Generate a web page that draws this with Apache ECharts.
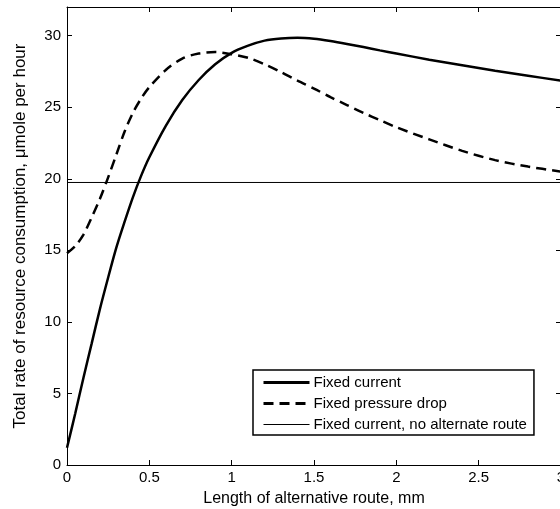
<!DOCTYPE html>
<html>
<head>
<meta charset="utf-8">
<script src="https://cdn.jsdelivr.net/npm/echarts@6/dist/echarts.min.js"></script>
<style>
html,body{margin:0;padding:0;background:#fff;}
#chart{width:560px;height:509px;}
</style>
</head>
<body>
<div id="chart"></div>
<script>
// Series: Fixed current (x, y)
var fixedCurrentX = [0, 0.05, 0.1, 0.15, 0.2, 0.25, 0.3, 0.35, 0.4, 0.45, 0.5, 0.6, 0.7, 0.8, 0.9, 1.0, 1.1, 1.2, 1.3, 1.4, 1.5, 1.6, 1.7, 1.8, 1.9, 2.0, 2.2, 2.4, 2.6, 2.8, 3.0];
var fixedCurrentY = [1.2, 3.6, 6.1, 8.5, 10.9, 13.1, 15.2, 17.0, 18.7, 20.2, 21.5, 23.7, 25.5, 26.9, 28.0, 28.8, 29.3, 29.65, 29.8, 29.85, 29.78, 29.62, 29.42, 29.2, 28.97, 28.75, 28.32, 27.93, 27.55, 27.2, 26.85];
// Series: Fixed pressure drop (x, y)
var pressureDropX = [0, 0.05, 0.1, 0.15, 0.2, 0.25, 0.3, 0.35, 0.4, 0.45, 0.5, 0.6, 0.7, 0.8, 0.9, 1.0, 1.1, 1.2, 1.3, 1.4, 1.5, 1.6, 1.7, 1.8, 1.9, 2.0, 2.2, 2.4, 2.6, 2.8, 3.0];
var pressureDropY = [14.8, 15.3, 16.1, 17.3, 18.6, 20.1, 21.7, 23.3, 24.6, 25.6, 26.4, 27.6, 28.4, 28.75, 28.85, 28.7, 28.45, 28.0, 27.45, 26.85, 26.3, 25.7, 25.15, 24.6, 24.1, 23.6, 22.75, 21.95, 21.3, 20.85, 20.5];
// Series: Fixed current, no alternate route
var noAltX = [0, 3];
var noAltY = [19.74, 19.74];
var seriesNames = ['Fixed current', 'Fixed pressure drop', 'Fixed current, no alternate route'];
var xTicks = [0, 0.5, 1, 1.5, 2, 2.5, 3];
var yTicks = [0, 5, 10, 15, 20, 25, 30];

function pairs(xs, ys) { return xs.map(function (x, i) { return [x, ys[i]]; }); }

var chart = echarts.init(document.getElementById('chart'), null, {renderer: 'canvas'});
var FONT = 'Liberation Sans, Arial, Helvetica, sans-serif';
function axisBase() {
  return {
    axisLine: {show: true, onZero: false, lineStyle: {color: '#000', width: 1}},
    axisTick: {show: true, inside: true, length: 5, lineStyle: {color: '#000', width: 1}},
    splitLine: {show: false}
  };
}
var noIcon = {color: 'rgba(0,0,0,0)', borderColor: 'rgba(0,0,0,0)', borderWidth: 0, opacity: 0};
chart.setOption({
  animation: false,
  backgroundColor: '#fff',
  grid: {left: 67, top: 7, right: -1, bottom: 44, containLabel: false, outerBoundsMode: 'none'},
  xAxis: [
    Object.assign(axisBase(), {
      type: 'value', min: 0, max: 3, interval: 0.5, position: 'bottom',
      axisLabel: {color: '#000', fontFamily: FONT, fontSize: 15, margin: 5,
        formatter: function (v) { return xTicks.indexOf(v) >= 0 ? String(v) : ''; }},
      name: 'Length of alternative route, mm', nameLocation: 'middle', nameGap: 26, nameMoveOverlap: false,
      nameTextStyle: {color: '#000', fontFamily: FONT, fontSize: 16, verticalAlign: 'top'}
    }),
    Object.assign(axisBase(), {
      type: 'value', min: 0, max: 3, interval: 0.5, position: 'top',
      axisLabel: {show: false}
    })
  ],
  yAxis: [
    Object.assign(axisBase(), {
      type: 'value', min: 0, max: 32, interval: 5, position: 'left',
      axisLabel: {color: '#000', fontFamily: FONT, fontSize: 15, margin: 6,
        formatter: function (v) { return yTicks.indexOf(v) >= 0 ? String(v) : ''; }},
      name: 'Total rate of resource consumption, \u03bcmole per hour', nameLocation: 'middle', nameGap: 38, nameMoveOverlap: false,
      nameTextStyle: {color: '#000', fontFamily: FONT, fontSize: 17}
    }),
    Object.assign(axisBase(), {
      type: 'value', min: 0, max: 32, interval: 5, position: 'right',
      axisLabel: {show: false}
    })
  ],
  legend: {
    orient: 'vertical', left: 253, top: 370,
    backgroundColor: '#fff', borderColor: '#000', borderWidth: 1.5,
    padding: [5, 7, 3, 9], itemGap: 6, itemWidth: 46, itemHeight: 14,
    itemStyle: noIcon,
    textStyle: {color: '#000', fontFamily: FONT, fontSize: 15, padding: [0, 0, 0, -1]},
    data: [
      {name: seriesNames[0], itemStyle: noIcon, lineStyle: {color: '#000', width: 3, type: 'solid'}},
      {name: seriesNames[1], itemStyle: noIcon, lineStyle: {color: '#000', width: 3, type: [10, 6]}},
      {name: seriesNames[2], itemStyle: noIcon, lineStyle: {color: '#000', width: 1, type: 'solid'}}
    ]
  },
  series: [
    {name: seriesNames[0], type: 'line', smooth: 0.3, symbol: 'none', data: pairs(fixedCurrentX, fixedCurrentY),
      lineStyle: {color: '#000', width: 2.5}, itemStyle: {color: '#000'}},
    {name: seriesNames[1], type: 'line', smooth: 0.3, symbol: 'none', data: pairs(pressureDropX, pressureDropY),
      lineStyle: {color: '#000', width: 2.5, type: [10, 6]}, itemStyle: {color: '#000'}},
    {name: seriesNames[2], type: 'line', symbol: 'none', data: pairs(noAltX, noAltY),
      lineStyle: {color: '#000', width: 1}, itemStyle: {color: '#000'}}
  ]
});
</script>
</body>
</html>
